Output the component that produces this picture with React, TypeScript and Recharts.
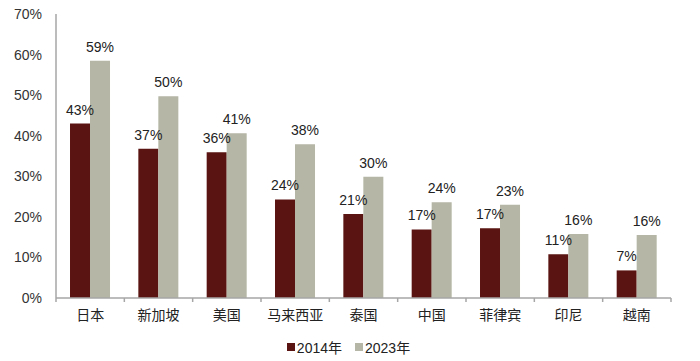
import { BarChart, Bar, XAxis, YAxis, Legend, LabelList } from "recharts";

const categories = ["日本", "新加坡", "美国", "马来西亚", "泰国", "中国", "菲律宾", "印尼", "越南"];
const values2014 = [43.0, 36.8, 35.9, 24.3, 20.7, 16.9, 17.2, 10.8, 6.8];
const values2023 = [58.5, 49.7, 40.6, 37.9, 29.9, 23.6, 23.0, 15.8, 15.5];
const yTicks = [0, 10, 20, 30, 40, 50, 60, 70];

const COLOR_2014 = "#5a1412";
const COLOR_2023 = "#b5b6a5";
const AXIS = "#a6a6a6";
const FONT = "'Liberation Sans', Arial, 'Noto Sans CJK SC', sans-serif";

const data = categories.map((name, i) => ({ name, v2014: values2014[i], v2023: values2023[i] }));

const W = 700;
const H = 361;
const LEFT = 56;
const RIGHT = 29;
const STEP = (W - LEFT - RIGHT) / categories.length;

function CategoryTick(props: any) {
  const { x, y, payload, index } = props;
  const half = STEP / 2;
  return (
    <g>
      <line x1={x - half} y1={y - 8} x2={x - half} y2={y - 4} stroke={AXIS} strokeWidth={1.5} />
      {index === categories.length - 1 && (
        <line x1={x + half} y1={y - 8} x2={x + half} y2={y - 4} stroke={AXIS} strokeWidth={1.5} />
      )}
      <text x={x} y={y + 14} textAnchor="middle" fontSize={14} fill="#222" fontFamily={FONT}>
        {payload.value}
      </text>
    </g>
  );
}

function LegendContent() {
  const items = [
    { label: "2014年", color: COLOR_2014 },
    { label: "2023年", color: COLOR_2023 },
  ];
  return (
    <div style={{ display: "flex", justifyContent: "center", gap: 13, fontFamily: FONT, fontSize: 14, color: "#222", paddingTop: 4, paddingLeft: 26 }}>
      {items.map((it) => (
        <span key={it.label} style={{ display: "flex", alignItems: "center" }}>
          <span style={{ width: 8, height: 8, background: it.color, display: "inline-block", marginRight: 2 }} />
          {it.label}
        </span>
      ))}
    </div>
  );
}

export default function App() {
  return (
    <div style={{ width: W, height: H, background: "#fff" }}>
      <style>{`body{margin:0}`}</style>
      <BarChart
        width={W}
        height={H}
        data={data}
        margin={{ top: 14, right: RIGHT, left: 0, bottom: 0 }}
        barGap={0}
        barCategoryGap="20.5%"
      >
        <XAxis
          dataKey="name"
          height={35}
          interval={0}
          tickLine={false}
          axisLine={{ stroke: AXIS, strokeWidth: 1.5 }}
          tick={<CategoryTick />}
        />
        <YAxis
          width={LEFT}
          domain={[0, 70]}
          ticks={yTicks}
          interval={0}
          tickLine={false}
          axisLine={{ stroke: AXIS, strokeWidth: 1.5 }}
          tickFormatter={(v: number) => `${v}%`}
          tick={{ fontSize: 14, fill: "#333", fontFamily: FONT }}
          tickMargin={8}
        />
        <Legend verticalAlign="bottom" height={28} content={<LegendContent />} />
        <Bar dataKey="v2014" fill={COLOR_2014} isAnimationActive={false}>
          <LabelList
            dataKey="v2014"
            position="top"
            offset={9}
            formatter={(v: number) => `${Math.round(v)}%`}
            style={{ fontSize: 14, fill: "#222", fontFamily: FONT }}
          />
        </Bar>
        <Bar dataKey="v2023" fill={COLOR_2023} isAnimationActive={false}>
          <LabelList
            dataKey="v2023"
            position="top"
            offset={9}
            formatter={(v: number) => `${Math.round(v)}%`}
            style={{ fontSize: 14, fill: "#222", fontFamily: FONT }}
          />
        </Bar>
      </BarChart>
    </div>
  );
}
